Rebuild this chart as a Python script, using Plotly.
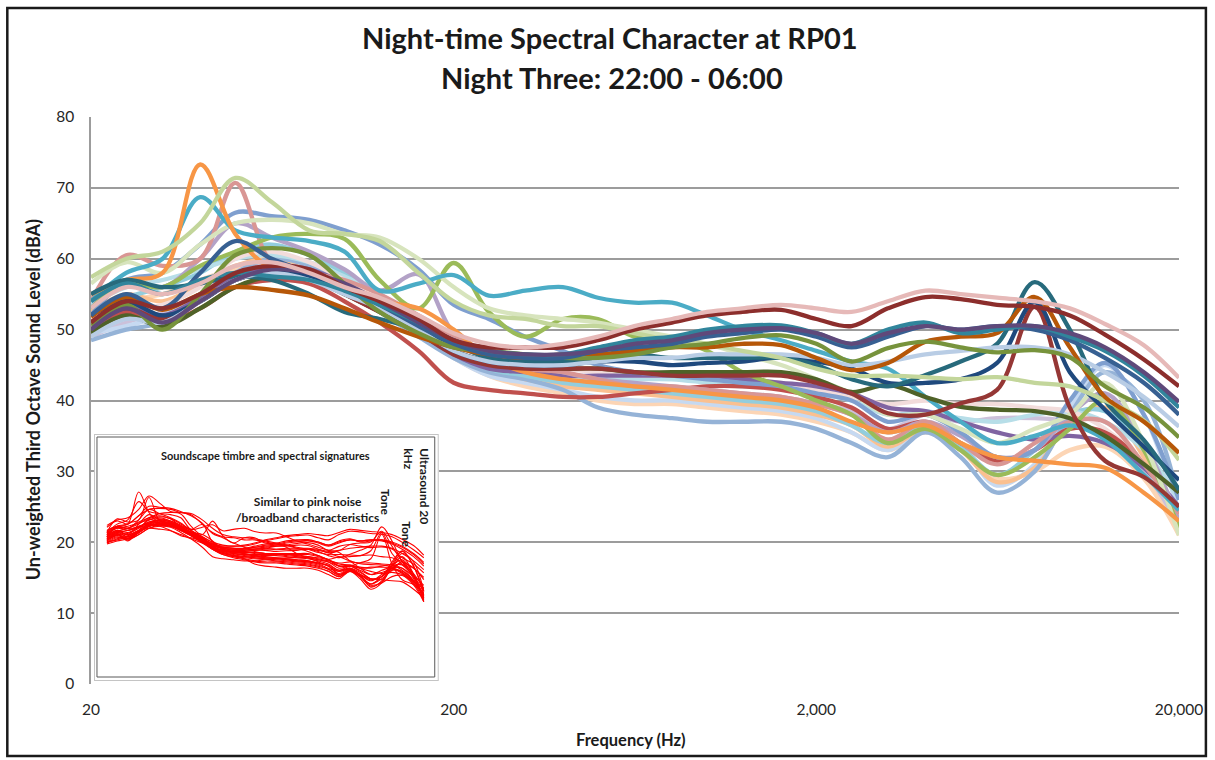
import math
import plotly.graph_objects as go

# Third-octave band centre frequencies (Hz)
freq_hz = [20, 25, 31.5, 40, 50, 63, 80, 100, 125, 160, 200, 250, 315, 400, 500,
           630, 800, 1000, 1250, 1600, 2000, 2500, 3150, 4000, 5000, 6300, 8000,
           10000, 12500, 16000, 20000]

tick_freqs = [20, 200, 2000, 20000]
tick_text = ["20", "200", "2,000", "20,000"]
level_ticks = [0, 10, 20, 30, 40, 50, 60, 70, 80]

# Quarter-hour spectra, un-weighted third-octave levels (dB)
lv_2200 = [49, 51, 52.5, 55, 58.5, 59.5, 58.5, 56.5, 53.5, 50, 46.5, 44, 43, 42.5, 42, 41.5, 41.5, 41, 40.5, 40, 39.5, 38.5, 36, 38, 37, 37.5, 37.5, 37, 35, 30, 21.5]
lv_2215 = [51.5, 54, 55, 57, 58.5, 58.5, 57.5, 55.5, 53, 49.5, 46, 43.5, 42, 41, 40, 39.5, 39.5, 39, 38.5, 38, 37, 35.5, 33, 35.5, 33, 29, 30, 33, 33.5, 29, 21]
lv_2230 = [49.5, 50.5, 52, 54.5, 57, 58.5, 58, 56, 53, 49.5, 46, 43.5, 42.5, 41.5, 40.5, 40, 40, 39.5, 39, 38.5, 37.5, 35.5, 33, 36, 33.5, 28, 31, 39, 45, 38, 24]
lv_2245 = [52.5, 55, 54, 56.5, 59, 60, 59, 57, 54, 50.5, 47, 44.5, 43, 42, 41.5, 41, 40.5, 40, 39.5, 39, 38, 36.5, 33.5, 36, 33, 28.5, 30.5, 37, 39, 32, 22.5]
lv_2300 = [48.5, 50, 51, 54, 58, 60, 59, 56, 52.5, 49, 46, 44, 43, 41.5, 39, 38, 37.5, 37, 37, 37, 36, 34, 32, 35.5, 32, 27, 30, 38, 44, 40, 26]
lv_2315 = [52, 54.5, 56, 58, 61, 62, 60.5, 58, 55, 51, 47, 44.5, 43.5, 42.5, 42, 41.5, 41, 40.5, 40, 39.5, 38.5, 36.5, 34, 36.5, 33.5, 29.5, 33, 38, 38.5, 33, 23]
lv_2330 = [53.5, 56, 57, 58.5, 60, 60.5, 59.5, 57.5, 55, 51.5, 47.5, 45, 44, 43.5, 43, 43, 43, 42.5, 42, 42, 41, 40, 38, 38.5, 37.5, 37, 38, 38.5, 37, 33, 26]
lv_2345 = [50.5, 53, 53.5, 56, 60, 61, 59.5, 57, 54, 50.5, 47.5, 45.5, 45, 44.5, 44, 43.5, 43.5, 43.5, 43, 42.5, 41.5, 40.5, 39.5, 40, 39.5, 39.5, 39, 38.5, 36, 31, 23.5]
lv_0000 = [50, 52.5, 51, 53, 56, 57, 56.5, 54, 51, 47, 42.5, 41.5, 41, 40.5, 40.5, 41, 41.5, 42, 42, 41.5, 40.5, 39, 36, 37, 34, 31.5, 33, 36, 35.5, 31, 24.5]
lv_0015 = [51, 53.5, 52, 54.5, 57.5, 59, 58.5, 56.5, 53.5, 50, 46.5, 44.5, 44, 43.5, 43.5, 43.5, 43.5, 43.5, 43, 42.5, 42, 41, 39, 38.5, 37, 35.5, 34.5, 35, 34, 30.5, 25]
lv_0030 = [53, 57, 56, 60, 65, 63, 61, 58.5, 55.5, 57.8, 49.5, 46.5, 45.5, 44, 43, 42.5, 42, 41.5, 41, 40.5, 39.5, 38, 35.5, 37, 35, 32, 33, 38, 41, 34, 23]
lv_0045 = [52, 57, 58, 62, 66.5, 66, 65.5, 64, 62, 58.5, 53.5, 51.5, 49, 47, 45, 44, 43.5, 43, 42.5, 42, 41, 40, 37, 38, 35.5, 32, 33, 40, 45.3, 38, 26]
lv_0100 = [54, 60.5, 59, 60, 70.7, 59.5, 58, 57, 55, 52, 49, 46, 44.5, 44, 43, 42, 42, 41.5, 41, 40.5, 39.5, 38, 34.5, 37, 34, 31, 34, 37, 37, 31, 24]
lv_0115 = [53, 56.5, 56, 59, 61, 63, 63.5, 62.8, 57, 53, 59.4, 52.5, 49, 51.5, 51.5, 49, 48.5, 47, 44, 42, 40, 38, 34, 36, 33, 29.5, 32, 36, 40, 33, 22]
lv_0130 = [56.5, 59.5, 58, 62, 65, 65.5, 65, 63.5, 63, 60, 56, 53, 52, 51.5, 51, 50, 49, 48, 46.5, 45, 43, 41, 38, 38, 36, 34, 36, 38, 42.5, 34, 21]
lv_0145 = [54, 58, 60, 68.7, 64, 63, 62.5, 61, 55.5, 56.5, 57.7, 54.8, 55.5, 56, 54.5, 53.8, 53.8, 52, 50, 48.5, 47, 45.5, 44.5, 40.5, 37, 34, 35, 36.5, 34.5, 29.5, 24.5]
lv_0200 = [55, 57, 58, 73.3, 63.5, 58.5, 57, 55.5, 54, 53, 50, 46, 44, 43, 42.5, 42, 41.5, 41, 40.5, 40, 39, 37, 35.5, 36.5, 34, 32, 31.5, 31, 30.5, 27, 23]
lv_0215 = [49.5, 52, 50.5, 53, 56, 57.5, 57, 55, 52.5, 49.5, 47, 45.5, 45, 44.5, 44.5, 44, 44, 44, 44, 44, 43, 41.2, 42.2, 40.5, 39.1, 38.7, 38.5, 37.5, 35, 31, 27]
lv_0230 = [51, 53, 51.5, 54, 57, 58, 57.5, 55, 52.5, 49.5, 46.5, 45, 44.5, 44.5, 44.5, 44, 43.5, 43.5, 43.5, 43.5, 42.5, 41, 38.2, 38, 39.6, 41.5, 53.2, 39, 31.5, 29.2, 25]
lv_0245 = [52, 54, 52, 54, 57, 58, 57.5, 55.5, 53, 50, 47, 45.5, 45, 45, 45.5, 45.5, 45, 45.3, 45.5, 46.1, 45.5, 44.5, 42.5, 42.5, 43, 45.3, 53.9, 44, 38.7, 33.5, 28.8]
lv_0300 = [55, 57, 56, 56.5, 57.5, 57, 55, 52.5, 51.5, 50, 48, 46, 45.5, 45.5, 46, 46.5, 46, 46, 46, 46, 45, 43, 42, 43.6, 45.5, 48, 56.7, 50, 40, 34.4, 27.4]
lv_0315 = [49, 51.5, 51, 54, 57, 58, 57, 55, 53, 50, 47, 45.5, 45, 45, 45.5, 46, 46, 46.5, 46.5, 46.5, 46, 45, 45.5, 46.5, 47, 47.5, 47.5, 46.5, 44, 40.5, 36.3]
lv_0330 = [57.4, 60, 61, 65, 71.4, 68, 64, 63.5, 62.5, 58, 54, 52, 51.5, 50.5, 50.5, 49.5, 48.5, 48, 47, 46, 44.5, 43.5, 43.5, 43.3, 43, 43.3, 42.5, 42, 40, 37.2, 31.6]
lv_0345 = [51.8, 54.6, 52.8, 55, 56, 55.6, 54.8, 53, 51, 49, 47.5, 46.5, 46, 46.5, 46.5, 47, 47.5, 47.5, 48, 47.8, 46, 44.3, 45.3, 48.3, 49, 49.5, 54.6, 47.5, 40.5, 37, 32.6]
lv_0400 = [50.6, 53.5, 50, 55, 60.5, 61.5, 60.5, 56.5, 52.5, 49.5, 47.5, 47, 46.5, 46, 46, 46.5, 47.5, 48, 48.8, 49.2, 48, 45.5, 47.4, 48.3, 47.5, 46.8, 47.1, 46.1, 42, 39, 34.8]
lv_0415 = [52, 55, 53, 58, 62.5, 60, 58, 56, 53.5, 50.5, 48, 46.5, 46, 46, 47, 47.5, 48, 49, 49.5, 50, 49, 47.5, 49, 50.5, 50, 50.5, 50, 48.5, 46, 42.5, 38]
lv_0430 = [54, 56.5, 55, 57, 58, 57.5, 57, 55.5, 53.5, 51, 48.5, 47, 46.5, 46.5, 47.5, 48.5, 49, 50, 50.5, 50.6, 49.5, 48, 50, 51, 49.5, 50, 50.5, 49, 47, 43.5, 39]
lv_0445 = [50, 53, 51, 54, 57, 58.5, 58, 56.5, 54, 51, 48.5, 47, 46.5, 46.5, 47, 48, 48.5, 49.5, 50, 50.2, 49.5, 48, 49.5, 50.5, 50, 50.5, 50.5, 49.5, 47.5, 44, 39.8]
lv_0500 = [51, 54, 53, 55, 58, 59, 58.5, 56, 54, 51.5, 48.5, 47.5, 47.5, 47.5, 48.5, 50, 51, 52, 52.5, 52.8, 51.5, 50.5, 53, 54.6, 54.3, 53.5, 53.2, 52, 49.3, 45.8, 42]
lv_0515 = [53, 56, 55, 56.5, 59, 59.5, 58, 56, 54.5, 52, 49.5, 48, 47.5, 48, 49, 50.5, 51.5, 52.5, 53, 53.5, 53, 52.5, 54, 55.5, 55, 54.5, 54, 53, 50.8, 47.8, 43.2]

period_labels = ["22:00", "22:15", "22:30", "22:45", "23:00", "23:15", "23:30", "23:45",
                 "00:00", "00:15", "00:30", "00:45", "01:00", "01:15", "01:30", "01:45",
                 "02:00", "02:15", "02:30", "02:45", "03:00", "03:15", "03:30", "03:45",
                 "04:00", "04:15", "04:30", "04:45", "05:00", "05:15"]

spectra = [lv_2200, lv_2215, lv_2230, lv_2245, lv_2300, lv_2315, lv_2330, lv_2345,
           lv_0000, lv_0015, lv_0030, lv_0045, lv_0100, lv_0115, lv_0130, lv_0145,
           lv_0200, lv_0215, lv_0230, lv_0245, lv_0300, lv_0315, lv_0330, lv_0345,
           lv_0400, lv_0415, lv_0430, lv_0445, lv_0500, lv_0515]

line_colours = ["#CCC1DA", "#FCD5B5", "#C6D9F1", "#FAC090", "#95B3D7", "#93CDDD",
                "#B7DEE8", "#F2DCDB", "#C0504D", "#8064A2", "#B3A2C7", "#7F9FCF",
                "#D99694", "#9BBB59", "#D7E4BD", "#4BACC6", "#F79646", "#4F6228",
                "#953735", "#1F497D", "#276A7C", "#B9CDE5", "#C3D69B", "#B65708",
                "#77933C", "#376092", "#31859C", "#5F497A", "#8C2E2C", "#E6B9B8"]

# Page geometry (pixels) and helpers for placing layout items
W, H = 1215, 760
ML, MR, MT, MB = 91, 32, 117, 76
PW, PH = W - ML - MR, H - MT - MB


def paper_x(px):
    return (px - ML) / PW


def paper_y(py):
    return (H - MB - py) / PH


# Inset panel: red overview of the same spectra
INSET_BOX = (94, 434, 440, 681)          # left, top, right, bottom (px)
INSET_XR = [1.1784, 4.4425]              # log10(Hz) across the panel
INSET_YR = [-16.7, 100.9]


def inset_x(px):
    frac = (px - INSET_BOX[0]) / (INSET_BOX[2] - INSET_BOX[0])
    return 10 ** (INSET_XR[0] + frac * (INSET_XR[1] - INSET_XR[0]))


def inset_y(py):
    frac = (INSET_BOX[3] - py) / (INSET_BOX[3] - INSET_BOX[1])
    return INSET_YR[0] + frac * (INSET_YR[1] - INSET_YR[0])


FONT = "Lato"
TXT = "#1a1a1a"

fig = go.Figure()

for name, vals, col in zip(period_labels, spectra, line_colours):
    fig.add_trace(go.Scatter(
        x=freq_hz, y=vals, mode="lines", name=name,
        line=dict(color=col, width=4.3, shape="spline", smoothing=1.0),
        xaxis="x", yaxis="y", showlegend=False))

for name, vals in zip(period_labels, spectra):
    fig.add_trace(go.Scatter(
        x=freq_hz, y=vals, mode="lines", name=name,
        line=dict(color="#ff0000", width=1.1, shape="spline", smoothing=1.0),
        xaxis="x2", yaxis="y2", showlegend=False, hoverinfo="skip"))

shapes = [
    # inset panel background and its outer frame
    dict(type="rect", xref="x2", yref="y2", layer="below",
         x0=inset_x(INSET_BOX[0]), x1=inset_x(INSET_BOX[2]),
         y0=inset_y(INSET_BOX[3]), y1=inset_y(INSET_BOX[1]),
         fillcolor="white", line=dict(color="#c4c4c4", width=2)),
    # inset inner border
    dict(type="rect", xref="x2", yref="y2", layer="below",
         x0=inset_x(97), x1=inset_x(436), y0=inset_y(677), y1=inset_y(437),
         fillcolor="rgba(0,0,0,0)", line=dict(color="#595959", width=1)),
    # chart frame
    dict(type="rect", xref="paper", yref="paper", layer="above",
         x0=paper_x(7), x1=paper_x(1210), y0=paper_y(756), y1=paper_y(8),
         line=dict(color="#1a1a1a", width=2.5)),
]

annotations = [
    dict(text="<b>Night-time Spectral Character at RP01</b>", x=paper_x(612), y=paper_y(38),
         font=dict(size=29, family=FONT, color=TXT)),
    dict(text="<b>Night Three: 22:00 - 06:00</b>", x=paper_x(614), y=paper_y(77),
         font=dict(size=29, family=FONT, color=TXT)),
    dict(text="<b>Un-weighted Third Octave Sound Level (dBA)</b>", x=paper_x(33), y=paper_y(400),
         textangle=-90, font=dict(size=18, family=FONT, color=TXT)),
    dict(text="<b>Frequency (Hz)</b>", x=paper_x(633), y=paper_y(740),
         font=dict(size=16.5, family=FONT, color=TXT)),
    dict(text="<b>Soundscape timbre and spectral signatures</b>", x=paper_x(266), y=paper_y(455),
         font=dict(size=11, family=FONT, color=TXT)),
    dict(text="<b>Similar to pink noise<br>/broadband characteristics</b>", x=paper_x(308), y=paper_y(509),
         font=dict(size=12, family=FONT, color=TXT)),
    dict(text="<b>Tone</b>", x=paper_x(387), y=paper_y(502), textangle=90,
         font=dict(size=12, family=FONT, color=TXT)),
    dict(text="<b>Tone</b>", x=paper_x(408), y=paper_y(534), textangle=90,
         font=dict(size=12, family=FONT, color=TXT)),
    dict(text="<b>Ultrasound 20<br>kHz</b>", x=paper_x(418), y=paper_y(486), textangle=90,
         align="left", font=dict(size=12, family=FONT, color=TXT)),
]
for a in annotations:
    a.update(xref="paper", yref="paper", showarrow=False, xanchor="center", yanchor="middle")

fig.update_layout(
    width=W, height=H,
    margin=dict(l=ML, r=MR, t=MT, b=MB, pad=0),
    paper_bgcolor="white", plot_bgcolor="white",
    showlegend=False,
    font=dict(family=FONT, color=TXT),
    xaxis=dict(type="log", range=[math.log10(20), math.log10(20000)],
               tickvals=tick_freqs, ticktext=tick_text, ticks="",
               showgrid=False, zeroline=False, showline=False,
               tickfont=dict(size=15.5, family=FONT, color="#262626"),
               ticklabelstandoff=14),
    yaxis=dict(range=[0, 80], tickvals=level_ticks, ticks="",
               showgrid=True, gridcolor="#9c9c9c", gridwidth=1.5,
               zeroline=False, showline=True, linecolor="#9c9c9c", linewidth=1.5,
               tickfont=dict(size=15.5, family=FONT, color="#262626"),
               ticklabelstandoff=12),
    xaxis2=dict(type="log", range=INSET_XR, domain=[paper_x(INSET_BOX[0]), paper_x(INSET_BOX[2])],
                anchor="y2", visible=False, showgrid=False, zeroline=False),
    yaxis2=dict(range=INSET_YR, domain=[paper_y(INSET_BOX[3]), paper_y(INSET_BOX[1])],
                anchor="x2", visible=False, showgrid=False, zeroline=False),
    shapes=shapes,
    annotations=annotations,
)

fig.write_html("out.html")
